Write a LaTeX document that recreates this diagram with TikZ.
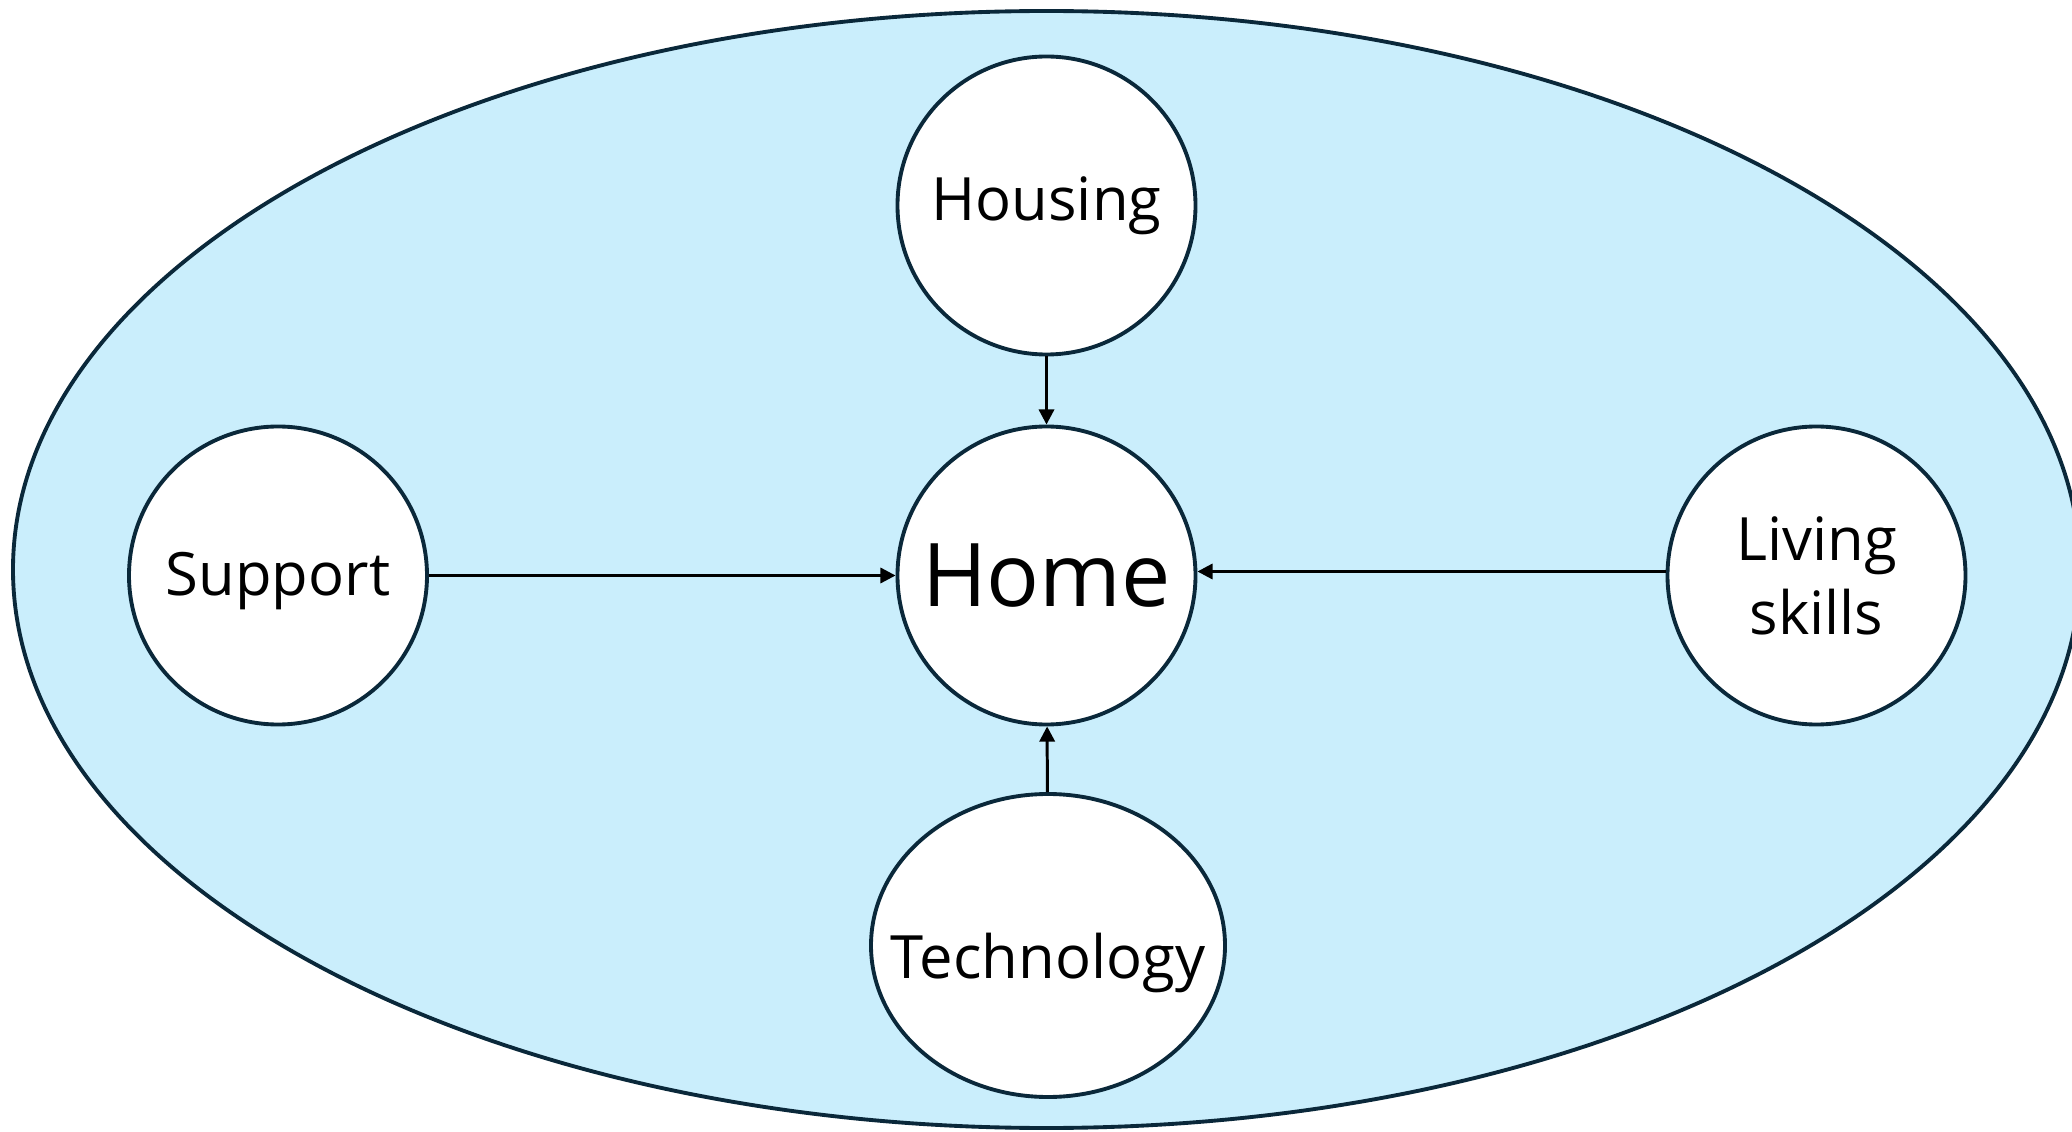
\documentclass[tikz,border=0pt]{standalone}
\usepackage{fontspec}
\setmainfont{Open Sans}
\usepackage{xcolor}
\usetikzlibrary{arrows.meta}
\usetikzlibrary{shapes.geometric}

\definecolor{skyfill}{RGB}{202,238,252}
\definecolor{navyline}{RGB}{10,40,58}

\tikzset{
  bubble/.style={circle,draw=navyline,line width=1.1pt,fill=white,
    minimum size=2.98cm,inner sep=0pt,align=center,
    font=\fontsize{17}{21}\selectfont},
  feed/.style={line width=0.85pt,-{Triangle[length=4.3pt,width=4.3pt]}}
}

\begin{document}
\begin{tikzpicture}
    \useasboundingbox (0,0) rectangle (20.72,-11.32);
    \draw[fill=skyfill,draw=navyline,line width=1.1pt]
      (10.465,-5.695) ellipse [x radius=10.335,y radius=5.585];
    \node[bubble] (home) at (10.465,-5.755)
      {\fontsize{25}{30}\selectfont Home};
    \node[bubble] (housing) at (10.465,-2.055) {Housing};
    \node[bubble] (support) at (2.78,-5.755) {\raisebox{-0.2cm}[0pt][0pt]{Support}};
    \node[bubble] (living) at (18.165,-5.755) {Living\\skills};
    \node[bubble,ellipse,minimum width=3.54cm,minimum height=3.03cm]
      (tech) at (10.48,-9.455) {\makebox[0pt]{\raisebox{-0.33cm}[0pt][0pt]{Technology}}};
    \draw[feed] (housing) -- (home);
    \draw[feed] (tech) -- (home);
    \draw[feed] (support) -- (home);
    \draw[feed] (living.west) ++(0,0.04) -- ([yshift=0.04cm]home.east);
  \end{tikzpicture}
\end{document}
